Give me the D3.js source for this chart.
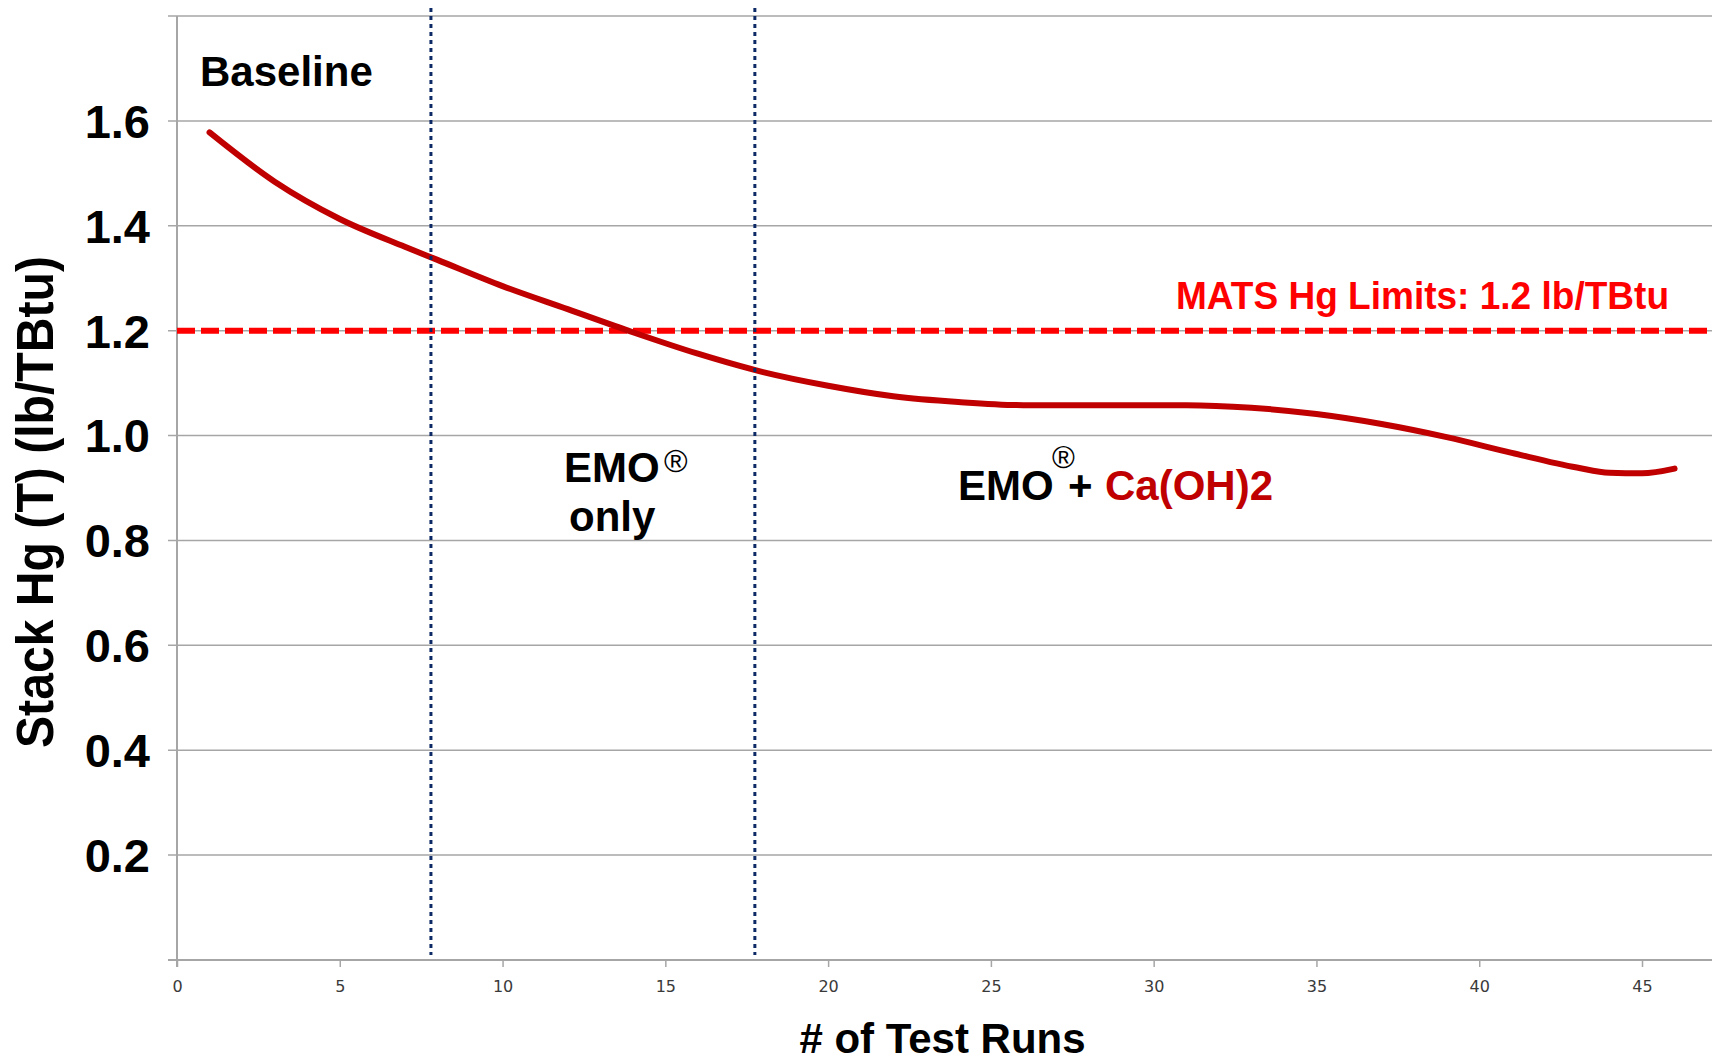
<!DOCTYPE html>
<html lang="en">
<head>
    <meta charset="UTF-8">
    <title>Stack Hg vs Test Runs</title>
    <style>
        body { margin: 0; background: #fff; }
        svg text { font-family: "Liberation Sans", Arial, sans-serif; }
        .tick-x text { font-family: "DejaVu Sans", Verdana, sans-serif; }
    </style>
</head>
<body>
    <div id="chart"></div>

    <script src="https://d3js.org/d3.v7.min.js"></script>
    <script>
        // Data
        const runs     = [1, 3, 5, 7, 8, 10, 12, 14, 16, 18, 20, 22, 24, 26, 28, 30, 31, 33, 35, 37, 39, 41, 43, 44, 45, 46];
        const hgValues = [1.578, 1.484, 1.413, 1.360, 1.335, 1.285, 1.241, 1.197, 1.156, 1.121, 1.095, 1.075, 1.064, 1.058, 1.058, 1.058, 1.058, 1.053, 1.041, 1.022, 0.997, 0.967, 0.939, 0.929, 0.928, 0.937];
        const xTicks   = [0, 5, 10, 15, 20, 25, 30, 35, 40, 45];
        const yTicks   = [0.2, 0.4, 0.6, 0.8, 1.0, 1.2, 1.4, 1.6];
        const yGrid    = [0.2, 0.4, 0.6, 0.8, 1.0, 1.2, 1.4, 1.6, 1.8];
        const phaseBreaks = [7.8, 17.75];
        const matsLimit = 1.2;

        const config = {
            width: 1712, height: 1061,
            left: 177, right: 1712, top: 16, bottom: 960,
            gridColor: "#a6a6a6",
            lineColor: "#c00000",
            limitColor: "#ff0000",
            phaseColor: "#0d2a66"
        };

        const svg = d3.select("#chart").append("svg")
            .attr("width", config.width)
            .attr("height", config.height);

        const x = d3.scaleLinear().domain([0, 47.15]).range([config.left, config.right]);
        const y = d3.scaleLinear().domain([0, 1.8]).range([config.bottom, config.top]);

        // horizontal gridlines (with short tick stubs left of the axis)
        svg.append("g").selectAll("line")
            .data(yGrid)
            .enter().append("line")
            .attr("x1", config.left - 9).attr("x2", config.right)
            .attr("y1", d => y(d)).attr("y2", d => y(d))
            .style("stroke", config.gridColor).style("stroke-width", 1.5);

        // x axis
        const xAxis = svg.append("g")
            .attr("class", "tick-x")
            .attr("transform", `translate(0, ${config.bottom})`)
            .call(d3.axisBottom(x).tickValues(xTicks).tickSize(7).tickPadding(14));
        xAxis.select(".domain").remove();
        xAxis.selectAll(".tick line").style("stroke", config.gridColor).style("stroke-width", 1.5);
        xAxis.selectAll(".tick text").style("font-size", "16px").style("fill", "#3a3a3a");
        svg.append("line")
            .attr("x1", config.left - 9).attr("x2", config.right)
            .attr("y1", config.bottom).attr("y2", config.bottom)
            .style("stroke", config.gridColor).style("stroke-width", 2);

        // y axis line
        svg.append("line")
            .attr("x1", config.left).attr("x2", config.left)
            .attr("y1", config.top).attr("y2", config.bottom + 7)
            .style("stroke", config.gridColor).style("stroke-width", 2);

        // y tick labels
        svg.append("g").selectAll("text")
            .data(yTicks)
            .enter().append("text")
            .attr("x", config.left - 27)
            .attr("y", d => y(d))
            .attr("dy", "0.36em")
            .attr("text-anchor", "end")
            .style("font-size", "47px").style("font-weight", "bold")
            .text(d => d.toFixed(1));

        // MATS limit line
        svg.append("line")
            .attr("x1", config.left).attr("x2", config.right)
            .attr("y1", y(matsLimit)).attr("y2", y(matsLimit))
            .style("stroke", config.limitColor).style("stroke-width", 6)
            .style("stroke-dasharray", "18,6");

        // the measured curve
        const line = d3.line()
            .x((d, i) => x(runs[i]))
            .y(d => y(d))
            .curve(d3.curveMonotoneX);

        svg.append("path")
            .datum(hgValues)
            .attr("d", line)
            .style("fill", "none")
            .style("stroke", config.lineColor)
            .style("stroke-width", 6)
            .style("stroke-linecap", "round");

        // phase boundaries
        svg.append("g").selectAll("line")
            .data(phaseBreaks)
            .enter().append("line")
            .attr("x1", d => x(d)).attr("x2", d => x(d))
            .attr("y1", y(1.8) - 8).attr("y2", y(0) - 5)
            .style("stroke", config.phaseColor).style("stroke-width", 3)
            .style("stroke-dasharray", "4,4");

        // annotations
        svg.append("text")
            .attr("x", 200).attr("y", 86)
            .style("font-size", "42px").style("font-weight", "bold")
            .text("Baseline");

        svg.append("text")
            .attr("x", 1176).attr("y", 309)
            .attr("textLength", 493).attr("lengthAdjust", "spacingAndGlyphs")
            .style("font-size", "38px").style("font-weight", "bold")
            .style("fill", config.limitColor)
            .text("MATS Hg Limits: 1.2 lb/TBtu");

        svg.append("text")
            .attr("x", 564).attr("y", 482)
            .style("font-size", "42px").style("font-weight", "bold")
            .text("EMO");
        svg.append("text")
            .attr("x", 664).attr("y", 472)
            .style("font-size", "32px")
            .text("®");
        svg.append("text")
            .attr("x", 569).attr("y", 531)
            .style("font-size", "42px").style("font-weight", "bold")
            .text("only");

        svg.append("text")
            .attr("x", 958).attr("y", 500)
            .style("font-size", "42px").style("font-weight", "bold")
            .text("EMO");
        svg.append("text")
            .attr("x", 1052).attr("y", 468)
            .style("font-size", "31px")
            .text("®");
        svg.append("text")
            .attr("x", 1068).attr("y", 500)
            .style("font-size", "42px").style("font-weight", "bold")
            .text("+");
        svg.append("text")
            .attr("x", 1105).attr("y", 500)
            .style("font-size", "42px").style("font-weight", "bold")
            .style("fill", config.lineColor)
            .text("Ca(OH)2");

        // axis titles
        svg.append("text")
            .attr("x", (config.left + config.right) / 2 - 2).attr("y", 1053)
            .attr("text-anchor", "middle")
            .style("font-size", "42px").style("font-weight", "bold")
            .text("# of Test Runs");

        svg.append("text")
            .attr("transform", "translate(53, 502) rotate(-90)")
            .attr("text-anchor", "middle")
            .attr("textLength", 492).attr("lengthAdjust", "spacingAndGlyphs")
            .style("font-size", "51px").style("font-weight", "bold")
            .text("Stack Hg (T) (lb/TBtu)");
    </script>
</body>
</html>
